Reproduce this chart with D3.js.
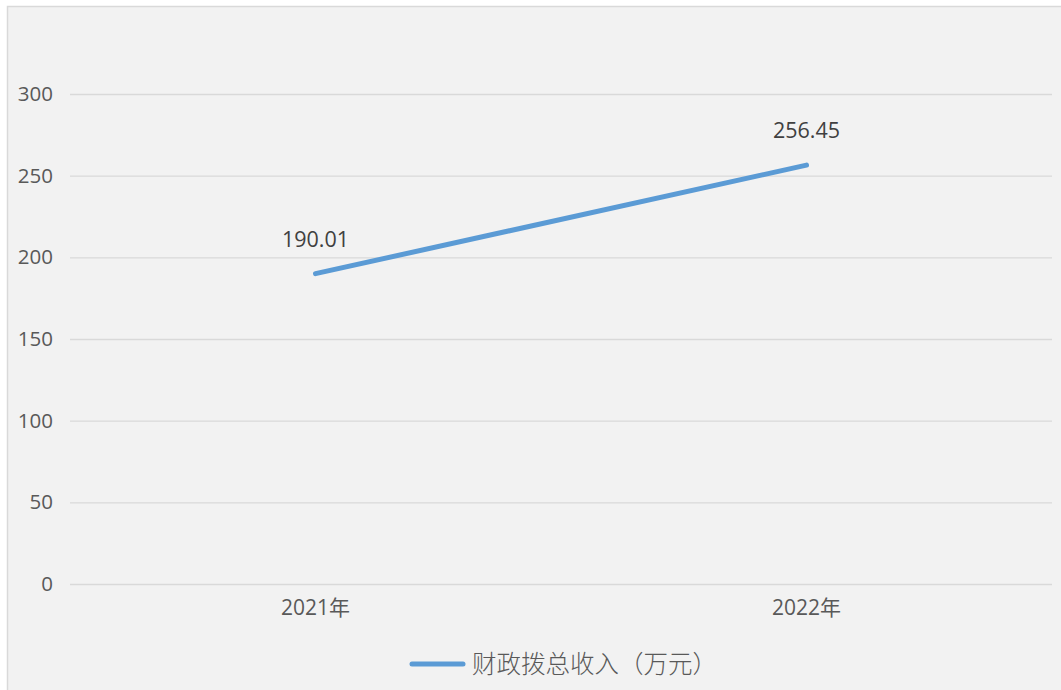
<!DOCTYPE html>
<html><head><meta charset="utf-8">
<script src="https://cdn.jsdelivr.net/npm/d3@7"></script>
<style>body{margin:0;background:#fff}svg{display:block}</style>
</head><body>
<svg id="c" width="1061" height="690"></svg>
<script>
const categories = ["2021年", "2022年"];
const values = [190.01, 256.45];
const seriesName = "财政拨总收入（万元）";
const yTicks = [0, 50, 100, 150, 200, 250, 300];

const svg = d3.select("#c");
const font = "'Open Sans', 'Noto Sans CJK SC', sans-serif";
svg.append("rect").attr("x", 7.5).attr("y", 6.5).attr("width", 1070).attr("height", 700)
  .attr("fill", "#f2f2f2").attr("stroke", "#d9d9d9").attr("stroke-width", 1.5);

const x = d3.scaleBand().domain(categories).range([70, 1052]);
const y = d3.scaleLinear().domain([0, 300]).range([584, 94]);

const yAxis = svg.append("g").attr("transform", "translate(70,0)")
  .call(d3.axisLeft(y).tickValues(yTicks).tickSize(-982).tickPadding(17));
yAxis.select(".domain").remove();
yAxis.selectAll("line").attr("stroke", "#d9d9d9").attr("stroke-width", 1.3);
yAxis.selectAll("text").attr("fill", "#595959").style("font-family", font).style("font-size", "20.5px");

const xAxis = svg.append("g").attr("transform", "translate(0,584)")
  .call(d3.axisBottom(x).tickSize(0).tickPadding(16));
xAxis.select(".domain").remove();
xAxis.selectAll("text").attr("fill", "#595959").style("font-family", font).style("font-size", "21px");

const line = d3.line().x((d, i) => x(categories[i]) + x.bandwidth() / 2).y(d => y(d));
svg.append("path").datum(values).attr("d", line).attr("fill", "none")
  .attr("stroke", "#5b9bd5").attr("stroke-width", 5).attr("stroke-linecap", "round");

svg.selectAll(".lbl").data(values).join("text")
  .attr("x", (d, i) => x(categories[i]) + x.bandwidth() / 2)
  .attr("y", d => y(d) - 27)
  .attr("text-anchor", "middle").attr("fill", "#404040")
  .style("font-family", font).style("font-size", "21.5px")
  .text(d => d.toFixed(2));

const lg = svg.append("g");
lg.append("line").attr("x1", 412).attr("x2", 463).attr("y1", 664).attr("y2", 664)
  .attr("stroke", "#5b9bd5").attr("stroke-width", 5).attr("stroke-linecap", "round");
lg.append("text").attr("x", 472).attr("y", 673).attr("fill", "#595959")
  .style("font-family", font).style("font-size", "24.5px").style("font-weight", 300).text(seriesName);
</script>
</body></html>
